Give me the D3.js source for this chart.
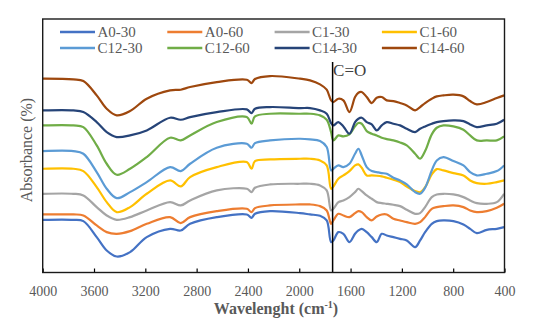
<!DOCTYPE html>
<html>
<head>
<meta charset="utf-8">
<script src="https://cdn.jsdelivr.net/npm/d3@7"></script>
<style>
  body { margin: 0; background: #fff; }
  svg { display: block; font-family: "Liberation Serif", "DejaVu Serif", serif; }
</style>
</head>
<body>
<svg width="550" height="331"></svg>
<script>
const width = 550;
const height = 331;

// Wavenumbers (cm-1) shared by every spectrum.
const wavenumbers = [4000, 3761, 3683, 3579, 3501, 3423, 3319, 3189, 3007, 2924,
    2851, 2643, 2409, 2372, 2345, 2228, 1994, 1916, 1838, 1786,
    1752, 1734, 1695, 1656, 1609, 1565, 1539, 1513, 1474, 1435,
    1396, 1357, 1318, 1266, 1214, 1162, 1097, 1058, 1019, 967,
    928, 876, 798, 720, 668, 616, 538, 460, 403];

// Absorbance (arbitrary units, stacked with offsets as in the figure).
const A0_30 = [158, 158, 154, 106, 66, 48, 61, 106, 131, 126,
    146, 166, 174, 164, 176, 184, 178, 174, 170, 156,
    91, 96, 121, 116, 91, 116, 126, 131, 121, 106,
    91, 116, 111, 106, 101, 96, 76, 96, 121, 146,
    154, 156, 154, 144, 131, 118, 128, 131, 136];
const A0_60 = [174, 174, 171, 141, 121, 116, 124, 146, 166, 148,
    166, 184, 191, 181, 193, 201, 204, 204, 199, 186,
    146, 156, 176, 171, 166, 178, 184, 181, 166, 156,
    168, 174, 174, 161, 156, 151, 146, 151, 166, 191,
    196, 199, 201, 196, 186, 181, 184, 194, 206];
const C1_30 = [236, 236, 231, 196, 171, 158, 166, 186, 211, 201,
    216, 246, 251, 241, 254, 264, 266, 266, 261, 246,
    186, 191, 211, 216, 226, 241, 251, 244, 231, 221,
    211, 208, 206, 203, 199, 188, 176, 178, 196, 226,
    234, 236, 234, 226, 216, 208, 206, 211, 236];
const C1_60 = [311, 311, 304, 256, 211, 181, 196, 236, 276, 258,
    286, 316, 331, 311, 334, 339, 341, 341, 336, 321,
    251, 258, 281, 291, 304, 321, 324, 314, 291, 291,
    290, 288, 284, 278, 271, 258, 244, 241, 256, 294,
    310, 306, 298, 291, 276, 268, 266, 271, 276];
const C12_30 = [364, 364, 356, 301, 251, 223, 241, 271, 316, 304,
    326, 374, 386, 374, 388, 396, 401, 399, 394, 376,
    306, 311, 321, 316, 326, 356, 371, 351, 316, 304,
    301, 298, 296, 284, 276, 264, 241, 236, 254, 306,
    336, 346, 334, 321, 301, 291, 296, 304, 321];
const C12_60 = [441, 441, 436, 381, 326, 293, 311, 346, 404, 396,
    411, 451, 466, 446, 468, 476, 476, 476, 471, 458,
    421, 396, 411, 408, 414, 438, 448, 446, 424, 416,
    411, 404, 400, 396, 390, 381, 356, 341, 364, 414,
    434, 441, 438, 428, 411, 396, 396, 396, 408];
const C14_30 = [486, 486, 481, 451, 421, 406, 411, 426, 464, 458,
    466, 481, 489, 478, 491, 496, 493, 493, 486, 476,
    448, 441, 451, 438, 416, 451, 461, 464, 451, 444,
    426, 441, 451, 446, 441, 431, 421, 431, 438, 446,
    451, 454, 456, 454, 444, 436, 441, 446, 458];
const C14_60 = [581, 579, 574, 531, 491, 471, 484, 521, 546, 548,
    556, 571, 578, 568, 580, 589, 581, 576, 564, 548,
    516, 511, 521, 516, 481, 526, 539, 541, 526, 508,
    524, 526, 516, 514, 508, 501, 486, 496, 508, 521,
    528, 531, 533, 528, 514, 504, 511, 523, 531];

const seriesNames = ["A0-30", "A0-60", "C1-30", "C1-60", "C12-30", "C12-60", "C14-30", "C14-60"];
const seriesValues = [A0_30, A0_60, C1_30, C1_60, C12_30, C12_60, C14_30, C14_60];
const colors = ["#4472C4", "#ED7D31", "#A5A5A5", "#FFC000", "#5B9BD5", "#70AD47", "#264478", "#9E480E"];

const xTicks = [4000, 3600, 3200, 2800, 2400, 2000, 1600, 1200, 800, 400];
const carbonyl = 1740;

const plot = { left: 42.7, right: 504.5, top: 19, bottom: 272.5 };

const x = d3.scaleLinear().domain([4000, 400]).range([plot.left, plot.right]);
const y = d3.scaleLinear().domain([0, 760]).range([plot.bottom, plot.top]);

const svg = d3.select("svg");

const series = seriesNames.map((name, i) => ({
    name: name,
    color: colors[i],
    points: wavenumbers.map((w, j) => ({ w: w, v: seriesValues[i][j] }))
}));

svg.append("clipPath").attr("id", "clip")
    .append("rect")
    .attr("x", plot.left).attr("y", plot.top)
    .attr("width", plot.right - plot.left).attr("height", plot.bottom - plot.top);

const line = d3.line()
    .x(d => x(d.w))
    .y(d => y(d.v))
    .curve(d3.curveCatmullRom.alpha(0.5));

svg.append("g").attr("clip-path", "url(#clip)")
    .selectAll("path")
    .data(series)
    .join("path")
    .attr("fill", "none")
    .attr("stroke", d => d.color)
    .attr("stroke-width", 2.2)
    .attr("stroke-linejoin", "round")
    .attr("d", d => line(d.points));

// Carbonyl marker.
svg.append("line")
    .attr("x1", x(carbonyl)).attr("x2", x(carbonyl))
    .attr("y1", 62).attr("y2", plot.bottom)
    .attr("stroke", "#000").attr("stroke-width", 1.5);

svg.append("text")
    .attr("x", x(carbonyl) + 0.5)
    .attr("y", 75.5)
    .attr("font-size", 17)
    .attr("fill", "#404040")
    .text("C=O");

// Bottom axis with inward ticks.
const xAxis = d3.axisBottom(x)
    .tickValues(xTicks)
    .tickSize(-4)
    .tickPadding(14)
    .tickFormat(d3.format("d"));

const axisG = svg.append("g")
    .attr("transform", `translate(0,${plot.bottom})`)
    .call(xAxis);
axisG.select(".domain").remove();
axisG.selectAll(".tick line").attr("stroke", "#000").attr("stroke-width", 1.2);
axisG.selectAll(".tick text")
    .attr("font-family", "Liberation Serif, serif")
    .attr("font-size", 14)
    .attr("fill", "#595959");

// Plot frame.
svg.append("rect")
    .attr("x", plot.left).attr("y", plot.top)
    .attr("width", plot.right - plot.left).attr("height", plot.bottom - plot.top)
    .attr("fill", "none")
    .attr("stroke", "#1a1a1a")
    .attr("stroke-width", 1.4);

// Legend, two rows of four.
const legend = svg.append("g")
    .selectAll("g")
    .data(series)
    .join("g")
    .attr("transform", (d, i) => `translate(${60 + (i % 4) * 107.3},${32 + Math.floor(i / 4) * 16})`);

legend.append("line")
    .attr("x1", 0).attr("x2", 35)
    .attr("stroke", d => d.color)
    .attr("stroke-width", 2.5);

legend.append("text")
    .attr("x", 37.5)
    .attr("y", 5)
    .attr("font-size", 15)
    .attr("fill", "#595959")
    .text(d => d.name);

// Axis titles.
const xTitle = svg.append("text")
    .attr("x", 276)
    .attr("y", 314)
    .attr("text-anchor", "middle")
    .attr("font-size", 16)
    .attr("font-weight", "bold")
    .attr("fill", "#595959");
xTitle.append("tspan").text("Wavelenght (cm");
xTitle.append("tspan").attr("font-size", 10).attr("dy", -6).text("-1");
xTitle.append("tspan").attr("dy", 6).text(")");

svg.append("text")
    .attr("transform", "translate(32,150) rotate(-90)")
    .attr("text-anchor", "middle")
    .attr("font-size", 16)
    .attr("fill", "#595959")
    .text("Absorbance (%)");
</script>
</body>
</html>
